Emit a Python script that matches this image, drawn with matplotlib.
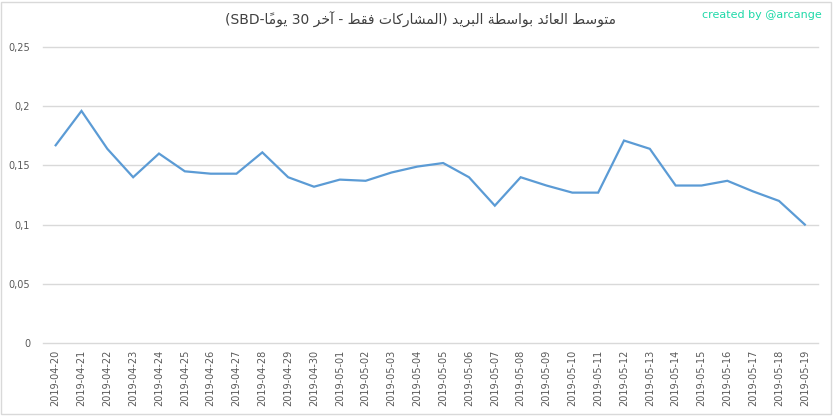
import matplotlib
matplotlib.use("Agg")
import matplotlib.pyplot as plt
from matplotlib.patches import Rectangle
from matplotlib.ticker import FuncFormatter
import re

# data
dates = ["2019-04-20", "2019-04-21", "2019-04-22", "2019-04-23", "2019-04-24",
         "2019-04-25", "2019-04-26", "2019-04-27", "2019-04-28", "2019-04-29",
         "2019-04-30", "2019-05-01", "2019-05-02", "2019-05-03", "2019-05-04",
         "2019-05-05", "2019-05-06", "2019-05-07", "2019-05-08", "2019-05-09",
         "2019-05-10", "2019-05-11", "2019-05-12", "2019-05-13", "2019-05-14",
         "2019-05-15", "2019-05-16", "2019-05-17", "2019-05-18", "2019-05-19"]
values = [0.167, 0.196, 0.164, 0.140, 0.160, 0.145, 0.143, 0.143, 0.161, 0.140,
          0.132, 0.138, 0.137, 0.144, 0.149, 0.152, 0.140, 0.116, 0.140, 0.133,
          0.127, 0.127, 0.171, 0.164, 0.133, 0.133, 0.137, 0.128, 0.120, 0.100]
y_ticks = [0, 0.05, 0.1, 0.15, 0.2, 0.25]

title = "متوسط العائد بواسطة البريد (المشاركات فقط - آخر 30 يومًا-SBD)"
credit = "created by @arcange"

# minimal arabic shaping: (isolated, final, initial, medial)
FORMS = {
    "ا": (0xFE8D, 0xFE8E, None, None), "آ": (0xFE81, 0xFE82, None, None),
    "ب": (0xFE8F, 0xFE90, 0xFE91, 0xFE92), "ة": (0xFE93, 0xFE94, None, None),
    "ت": (0xFE95, 0xFE96, 0xFE97, 0xFE98), "خ": (0xFEA5, 0xFEA6, 0xFEA7, 0xFEA8),
    "د": (0xFEA9, 0xFEAA, None, None), "ر": (0xFEAD, 0xFEAE, None, None),
    "س": (0xFEB1, 0xFEB2, 0xFEB3, 0xFEB4), "ش": (0xFEB5, 0xFEB6, 0xFEB7, 0xFEB8),
    "ط": (0xFEC1, 0xFEC2, 0xFEC3, 0xFEC4), "ع": (0xFEC9, 0xFECA, 0xFECB, 0xFECC),
    "ف": (0xFED1, 0xFED2, 0xFED3, 0xFED4), "ق": (0xFED5, 0xFED6, 0xFED7, 0xFED8),
    "ك": (0xFED9, 0xFEDA, 0xFEDB, 0xFEDC), "ل": (0xFEDD, 0xFEDE, 0xFEDF, 0xFEE0),
    "م": (0xFEE1, 0xFEE2, 0xFEE3, 0xFEE4), "و": (0xFEED, 0xFEEE, None, None),
    "ي": (0xFEF1, 0xFEF2, 0xFEF3, 0xFEF4), "ئ": (0xFE89, 0xFE8A, 0xFE8B, 0xFE8C),
}
MARKS = "\u064B\u064C\u064D\u064E\u064F\u0650\u0651\u0652"


def shape_rtl(text):
    chars = list(text)
    out = []
    for i, c in enumerate(chars):
        if c not in FORMS:
            out.append({"(": ")", ")": "("}.get(c, c))
            continue
        j = i - 1
        while j >= 0 and chars[j] in MARKS:
            j -= 1
        k = i + 1
        while k < len(chars) and chars[k] in MARKS:
            k += 1
        prev_joins = j >= 0 and chars[j] in FORMS and FORMS[chars[j]][2] is not None
        next_joins = (k < len(chars) and chars[k] in FORMS and FORMS[c][2] is not None)
        iso, fin, ini, med = FORMS[c]
        if prev_joins and next_joins:
            code = med
        elif prev_joins:
            code = fin
        elif next_joins:
            code = ini
        else:
            code = iso
        out.append(chr(code))
    # reverse by clusters; mark goes in front of its base so it sits on it
    clusters = []
    for c in out:
        if c in MARKS and clusters:
            clusters[-1] = c + clusters[-1]
        else:
            clusters.append(c)
    vis = "".join(reversed(clusters))
    # put latin / digit runs back in reading order
    return re.sub(r"[A-Za-z0-9]+", lambda m: m.group(0)[::-1], vis)


fig = plt.figure(figsize=(8.33, 4.16), dpi=100)
fig.patches.append(Rectangle((0.001, 0.006), 0.996, 0.99, transform=fig.transFigure,
                             fill=False, edgecolor="#d9d9d9", linewidth=1))

ax = fig.add_axes([0.0513, 0.1755, 0.9304, 0.7115])
x = range(len(dates))
ax.plot(x, values, color="#5b9bd5", linewidth=1.6, solid_joinstyle="miter")

ax.set_xlim(-0.5, len(dates) - 0.5)
ax.set_ylim(0, 0.25)
ax.set_yticks(y_ticks)
ax.yaxis.set_major_formatter(FuncFormatter(lambda v, p: ("%g" % v).replace(".", ",")))
ax.set_xticks(list(x))
ax.set_xticklabels(dates, rotation=90)
ax.tick_params(axis="both", length=0, labelsize=7, labelcolor="#595959")
ax.tick_params(axis="y", pad=9)
ax.tick_params(axis="x", pad=5)
ax.grid(axis="y", color="#d9d9d9", linewidth=1)
for gl in ax.get_ygridlines():
    gl.set_clip_on(False)
ax.set_axisbelow(True)
for s in ax.spines.values():
    s.set_visible(False)

fig.text(0.505, 0.952, shape_rtl(title), ha="center", va="center",
         fontsize=10, color="#404040", family="DejaVu Sans")
fig.text(0.987, 0.965, credit, ha="right", va="center", fontsize=8,
         color="#1ed9a8")

fig.savefig("out.png", dpi=100)
